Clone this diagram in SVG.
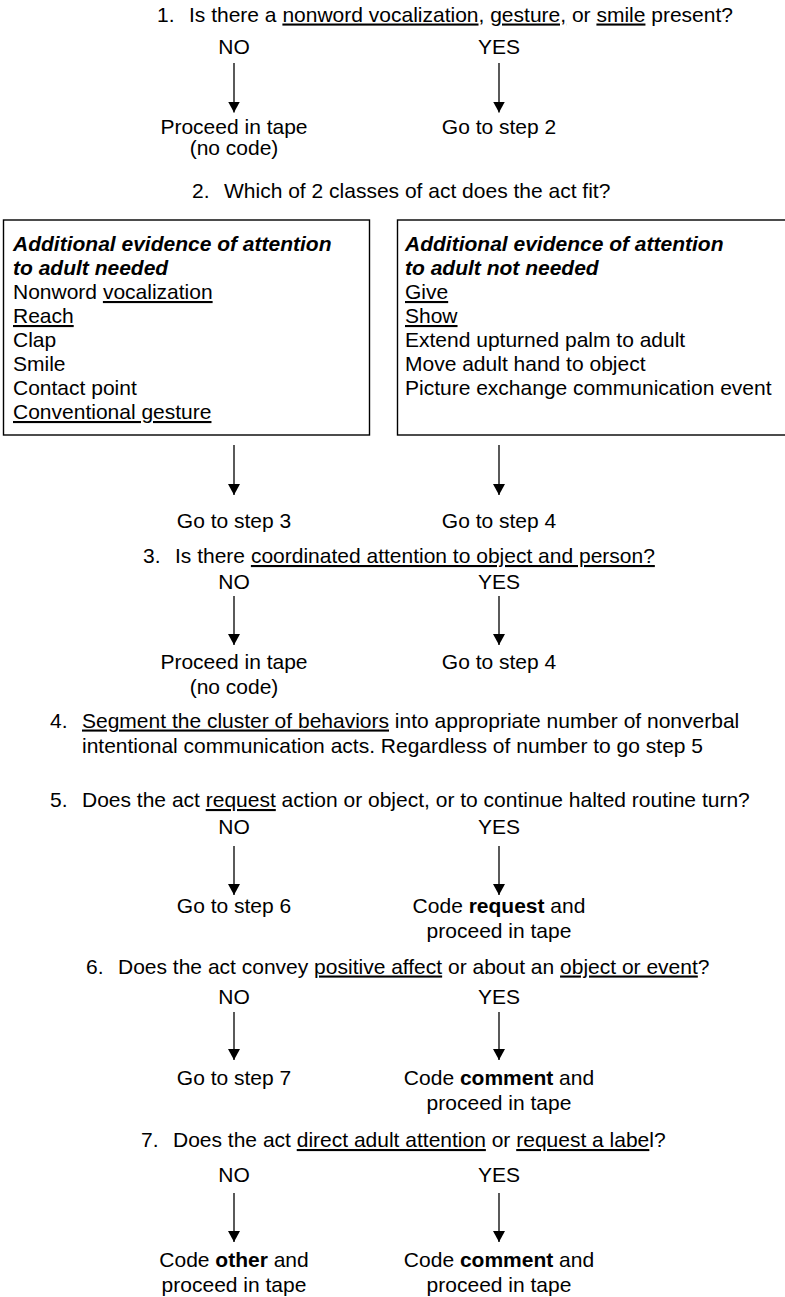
<svg xmlns="http://www.w3.org/2000/svg" width="785" height="1297" viewBox="0 0 785 1297">
<defs>
<style>
text{font-family:"Liberation Sans",Arial,Helvetica,sans-serif;font-size:21px;fill:#000}
.c{text-anchor:middle}
.u{text-decoration:underline}
.bi{font-weight:bold;font-style:italic}
.b{font-weight:bold}
.box{fill:none;stroke:#000;stroke-width:1.4}
.arr{stroke:#000;stroke-width:1.3;fill:none;marker-end:url(#ah)}
</style>
<marker id="ah" markerUnits="userSpaceOnUse" markerWidth="12" markerHeight="12" refX="11" refY="6" orient="auto">
<path d="M0,0 L11,6 L0,12 z" fill="#000"/>
</marker>
</defs>
<rect width="785" height="1297" fill="#fff"/>

<g id="step1">
<text x="157" y="21.5">1.</text>
<text x="189" y="21.5">Is there a <tspan class="u">nonword vocalization</tspan>, <tspan class="u">gesture,</tspan> or <tspan class="u">smile</tspan> present?</text>
<text class="c" x="234" y="54">NO</text>
<text class="c" x="499" y="54">YES</text>
</g>
<g id="s1-no">
<text class="c" x="234" y="134">Proceed in tape</text>
<text class="c" x="234" y="155">(no code)</text>
</g>
<g id="s1-yes">
<text class="c" x="499" y="134">Go to step 2</text>
</g>

<g id="step2">
<text x="192" y="198">2.</text>
<text x="224" y="198">Which of 2 classes of act does the act fit?</text>
</g>
<g id="box-needed">
<rect class="box" x="3.5" y="220" width="366" height="215"/>
<text class="bi" x="13" y="251">Additional evidence of attention</text>
<text class="bi" x="13" y="275">to adult needed</text>
<text x="13" y="299">Nonword <tspan class="u">vocalization</tspan></text>
<text x="13" y="323"><tspan class="u">Reach</tspan></text>
<text x="13" y="347">Clap</text>
<text x="13" y="371">Smile</text>
<text x="13" y="395">Contact point</text>
<text x="13" y="419"><tspan class="u">Conventional gesture</tspan></text>
</g>
<g id="box-not-needed">
<rect class="box" x="397.5" y="220" width="400" height="215"/>
<text class="bi" x="405" y="251">Additional evidence of attention</text>
<text class="bi" x="405" y="275">to adult not needed</text>
<text x="405" y="299"><tspan class="u">Give</tspan></text>
<text x="405" y="323"><tspan class="u">Show</tspan></text>
<text x="405" y="347">Extend upturned palm to adult</text>
<text x="405" y="371">Move adult hand to object</text>
<text x="405" y="395">Picture exchange communication event</text>
</g>
<g id="s2-left"><text class="c" x="234" y="528">Go to step 3</text></g>
<g id="s2-right"><text class="c" x="499" y="528">Go to step 4</text></g>

<g id="step3">
<text x="143" y="563">3.</text>
<text x="175" y="563">Is there <tspan class="u">coordinated attention to object and person?</tspan></text>
<text class="c" x="234" y="588.5">NO</text>
<text class="c" x="499" y="588.5">YES</text>
</g>
<g id="s3-no">
<text class="c" x="234" y="669">Proceed in tape</text>
<text class="c" x="234" y="694">(no code)</text>
</g>
<g id="s3-yes"><text class="c" x="499" y="669">Go to step 4</text></g>

<g id="step4">
<text x="50" y="727.5">4.</text>
<text x="82" y="727.5"><tspan class="u">Segment the cluster of behaviors</tspan> into appropriate number of nonverbal</text>
<text x="82" y="752.5">intentional communication acts. Regardless of number to go step 5</text>
</g>

<g id="step5">
<text x="50" y="807">5.</text>
<text x="82" y="807">Does the act <tspan class="u">request</tspan> action or object, or to continue halted routine turn?</text>
<text class="c" x="234" y="833.5">NO</text>
<text class="c" x="499" y="833.5">YES</text>
</g>
<g id="s5-no"><text class="c" x="234" y="913">Go to step 6</text></g>
<g id="s5-yes">
<text class="c" x="499" y="913">Code <tspan class="b">request</tspan> and</text>
<text class="c" x="499" y="938">proceed in tape</text>
</g>

<g id="step6">
<text x="86" y="973.5">6.</text>
<text x="118" y="973.5">Does the act convey <tspan class="u">positive affect</tspan> or about an <tspan class="u">object or event</tspan>?</text>
<text class="c" x="234" y="1004">NO</text>
<text class="c" x="499" y="1004">YES</text>
</g>
<g id="s6-no"><text class="c" x="234" y="1085">Go to step 7</text></g>
<g id="s6-yes">
<text class="c" x="499" y="1085">Code <tspan class="b">comment</tspan> and</text>
<text class="c" x="499" y="1110">proceed in tape</text>
</g>

<g id="step7">
<text x="141" y="1147">7.</text>
<text x="173" y="1147">Does the act <tspan class="u">direct adult attention</tspan> or <tspan class="u">request a labe</tspan>l?</text>
<text class="c" x="234" y="1182">NO</text>
<text class="c" x="499" y="1182">YES</text>
</g>
<g id="s7-no">
<text class="c" x="234" y="1267">Code <tspan class="b">other</tspan> and</text>
<text class="c" x="234" y="1292">proceed in tape</text>
</g>
<g id="s7-yes">
<text class="c" x="499" y="1267">Code <tspan class="b">comment</tspan> and</text>
<text class="c" x="499" y="1292">proceed in tape</text>
</g>

<g id="connectors">
<line class="arr" x1="234" y1="63" x2="234" y2="112.5"/>
<line class="arr" x1="499" y1="63" x2="499" y2="112.5"/>
<line class="arr" x1="234" y1="445" x2="234" y2="495"/>
<line class="arr" x1="499" y1="445" x2="499" y2="495"/>
<line class="arr" x1="234" y1="596" x2="234" y2="645"/>
<line class="arr" x1="499" y1="596" x2="499" y2="645"/>
<line class="arr" x1="234" y1="846" x2="234" y2="895"/>
<line class="arr" x1="499" y1="846" x2="499" y2="895"/>
<line class="arr" x1="234" y1="1012" x2="234" y2="1060"/>
<line class="arr" x1="499" y1="1012" x2="499" y2="1060"/>
<line class="arr" x1="234" y1="1193" x2="234" y2="1242"/>
<line class="arr" x1="499" y1="1193" x2="499" y2="1242"/>
</g>
</svg>
